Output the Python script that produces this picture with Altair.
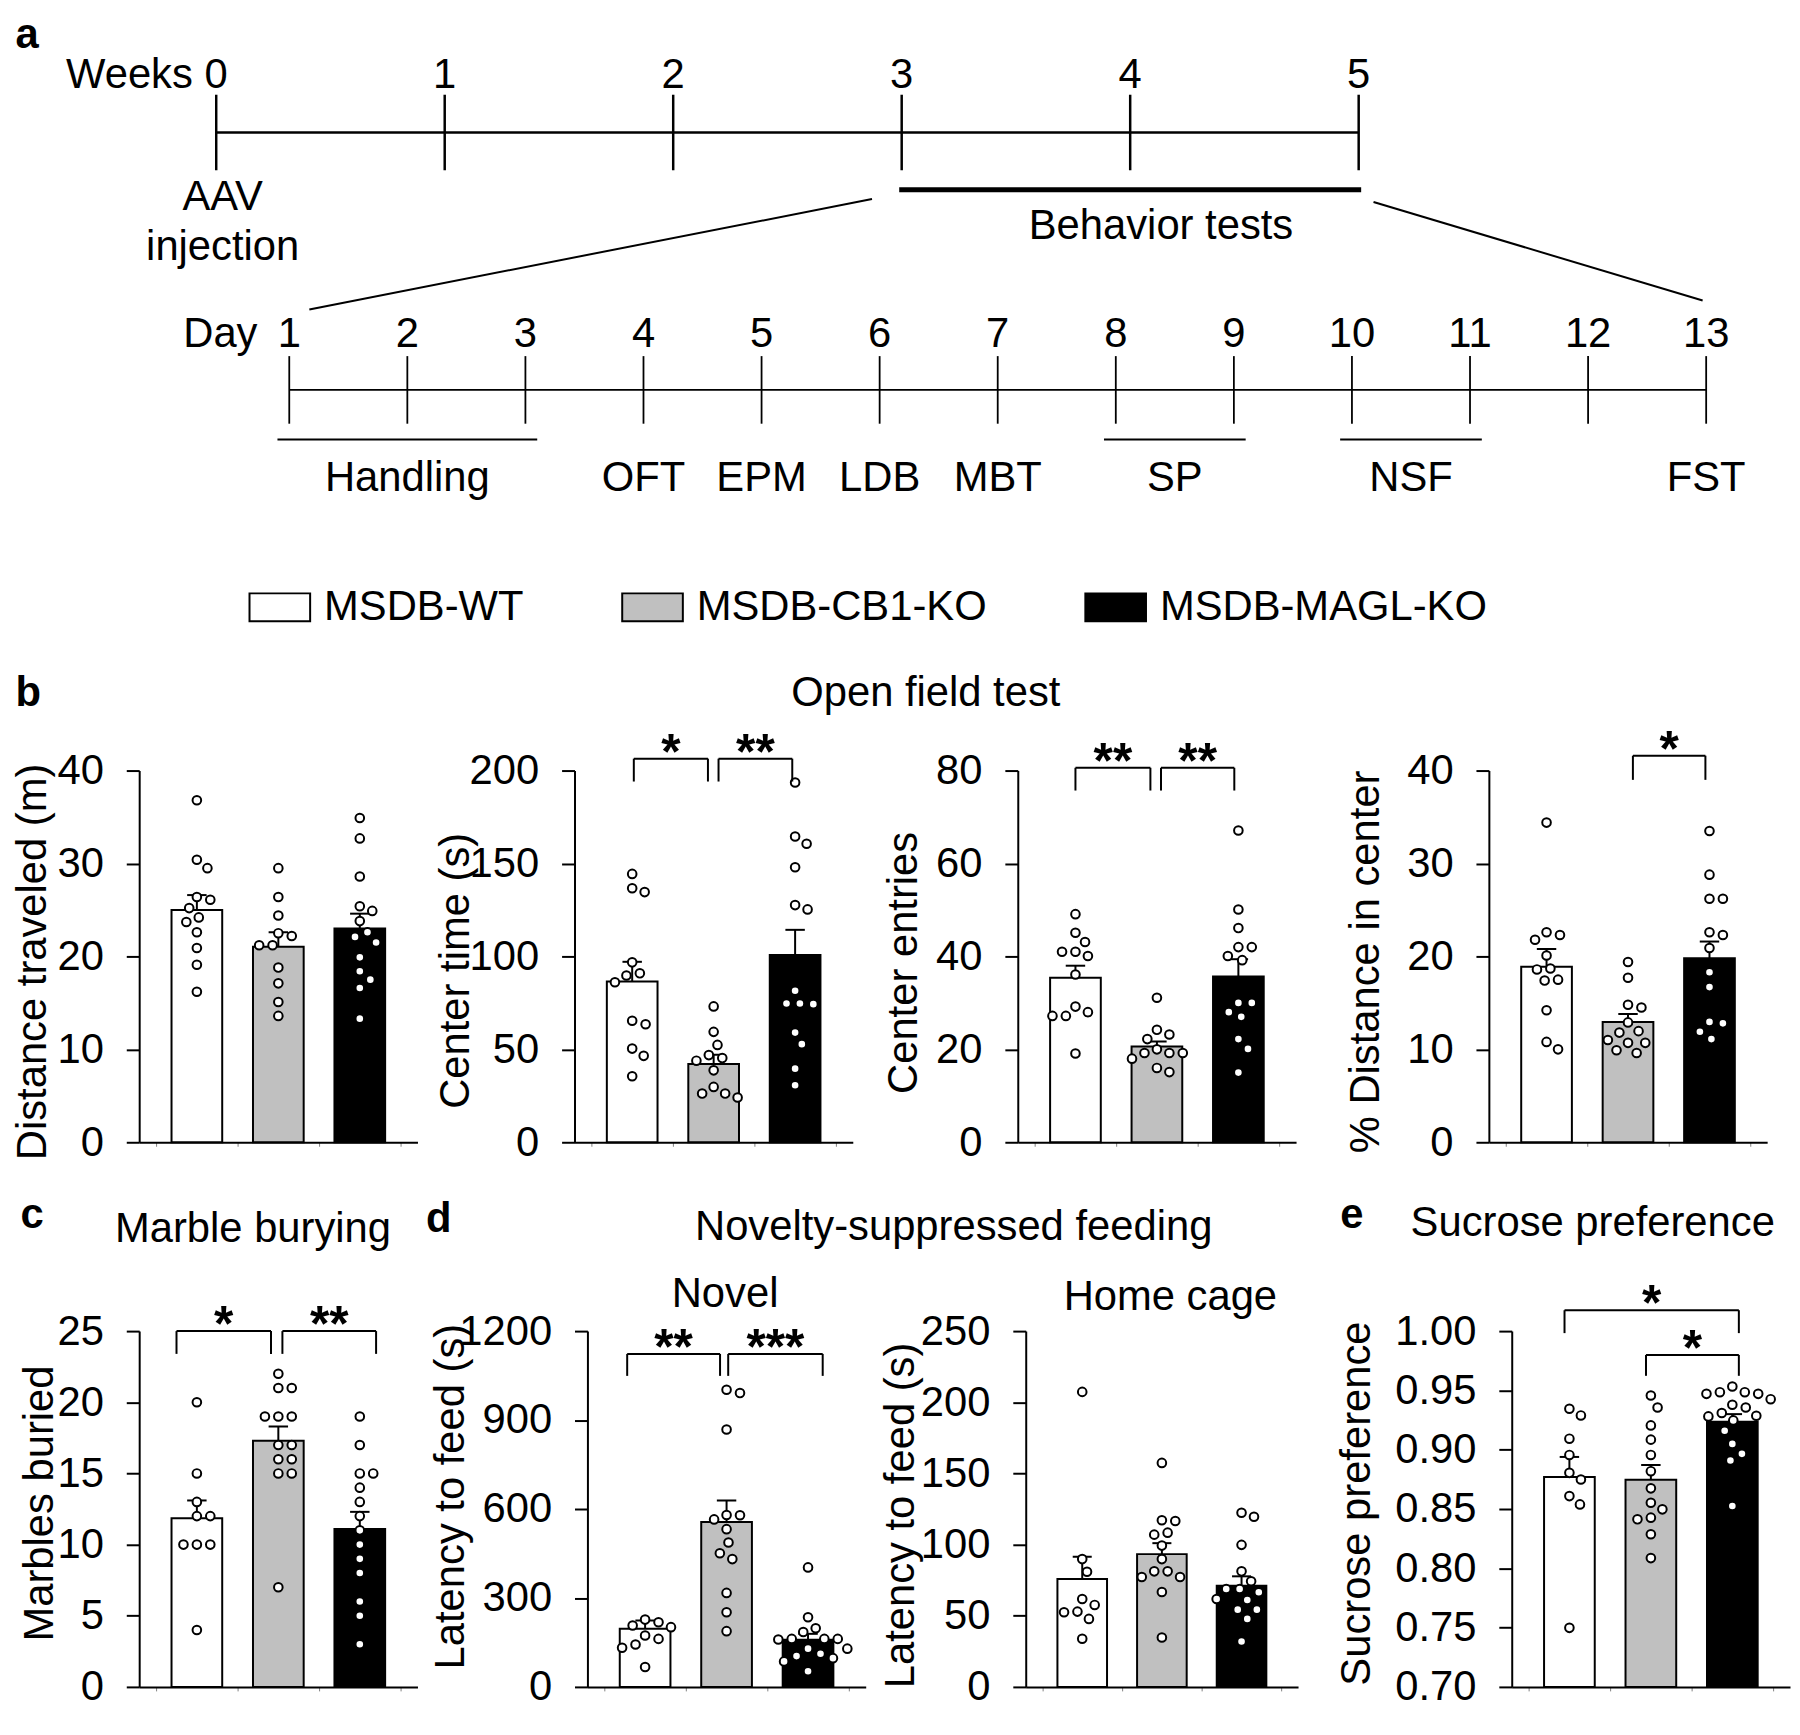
import altair as alt
import pandas as pd

FONT = "Liberation Sans"
GROUPS = ["MSDB-WT", "MSDB-CB1-KO", "MSDB-MAGL-KO"]
GROUP_FILLS = ["white", "#c0c0c0", "black"]

# ---------------- panel a: timeline ----------------
WEEKS = [0, 1, 2, 3, 4, 5]
BEHAVIOR_WEEKS = [3, 5]
DAYS = list(range(1, 14))
EVENT_NAMES = ["Handling", "OFT", "EPM", "LDB", "MBT", "SP", "NSF", "FST"]
EVENT_DAYS = [2, 4, 5, 6, 7, 8.5, 10.5, 13]
SPAN_START = [1, 8, 10]
SPAN_END = [3, 9, 11]

# ---------------- b: open field test ----------------
DIST_WT = [36.8, 30.4, 29.5, 26.4, 26.1, 25.2, 24.2, 23.7, 22.6, 20.9, 19.1, 16.2]
DIST_CB1 = [29.5, 26.4, 24.4, 22.5, 22.2, 21.2, 21.2, 18.8, 17.1, 15.1, 13.6]
DIST_MAGL = [34.9, 32.7, 28.6, 25.4, 24.9, 23.8, 22.6, 22.1, 21.5, 19.9, 18.4, 17.5, 16.6, 13.3]
DIST_MEAN = [25.0, 21.05, 23.0]
DIST_SEM = [1.6, 1.55, 1.6]

CTIME_WT = [144.4, 136.7, 134.6, 96.8, 90.9, 89.7, 86.1, 65.4, 63.5, 50.4, 46.5, 35.5]
CTIME_CB1 = [73.1, 59.4, 52.4, 46.9, 45.3, 43.9, 38.7, 29.8, 26.2, 26.2, 24.1]
CTIME_MAGL = [193.6, 164.5, 160.6, 148.0, 127.6, 125.3, 81.5, 74.7, 74.7, 74.3, 59.0, 52.8, 39.6, 30.7]
CTIME_MEAN = [86.5, 42.1, 100.7]
CTIME_SEM = [10.6, 5.0, 13.6]

CENT_WT = [49.1, 45.1, 43.1, 41.0, 41.0, 40.1, 36.1, 29.2, 28.0, 27.2, 27.2, 19.1]
CENT_CB1 = [31.1, 24.2, 23.2, 22.2, 20.0, 19.2, 19.2, 19.2, 18.0, 16.0, 15.1]
CENT_MAGL = [67.1, 50.1, 46.1, 42.0, 42.0, 40.1, 39.2, 30.0, 30.0, 28.0, 27.0, 22.2, 20.1, 15.0]
CENT_MEAN = [35.4, 20.6, 35.7]
CENT_SEM = [2.6, 1.1, 3.7]

PCT_WT = [34.4, 22.6, 22.3, 21.8, 20.1, 18.7, 18.6, 17.5, 17.4, 14.2, 10.8, 10.0]
PCT_CB1 = [19.4, 17.7, 14.8, 14.5, 12.9, 11.96, 11.8, 11.0, 10.7, 10.7, 9.9, 9.6]
PCT_MAGL = [33.5, 28.8, 26.2, 26.2, 22.6, 22.3, 20.9, 18.3, 16.7, 12.95, 12.8, 11.9, 11.1]
PCT_MEAN = [18.9, 12.95, 19.8]
PCT_SEM = [1.9, 0.85, 1.8]

# ---------------- c: marble burying ----------------
MARB_WT = [20, 15, 13, 12, 12, 10, 10, 10, 4]
MARB_CB1 = [22, 21, 21, 19, 19, 19, 17, 17, 16, 16, 15, 15, 7]
MARB_MAGL = [19, 17, 15, 15, 14, 13, 12, 11, 10, 9, 8, 6, 5, 3]
MARB_MEAN = [11.85, 17.3, 11.1]
MARB_SEM = [1.25, 1.0, 1.2]

# ---------------- d: novelty-suppressed feeding ----------------
NOV_WT = [227, 218, 207, 201.5, 173.5, 162, 143, 132, 67]
NOV_CB1 = [1002, 991, 868, 580, 579, 565, 532, 487, 451, 431, 317, 252, 188]
NOV_MAGL = [403, 235, 198, 185, 162, 162, 162, 160, 129, 129, 112, 104, 97, 86, 53]
NOV_MEAN = [196, 556, 159]
NOV_SEM = [28, 73, 20]

HOME_WT = [207.3, 89.8, 80.9, 61.8, 57.6, 52.9, 52.5, 47.8, 33.8]
HOME_CB1 = [157.4, 117.1, 116.6, 108.4, 107.0, 99.3, 89.8, 81.2, 81.2, 77.2, 77.2, 66.7, 34.7]
HOME_MAGL = [122.4, 119.6, 99.8, 81.2, 74.2, 68.8, 68.8, 66.5, 61.8, 61.1, 54.3, 54.3, 47.8, 31.9]
HOME_MEAN = [75.8, 93.3, 71.1]
HOME_SEM = [15.6, 7.7, 6.6]

# ---------------- e: sucrose preference ----------------
SUC_WT = [0.9345, 0.9289, 0.9093, 0.8956, 0.8805, 0.8749, 0.8609, 0.8539, 0.7498]
SUC_CB1 = [0.9457, 0.9356, 0.9205, 0.9085, 0.8956, 0.8819, 0.8674, 0.8553, 0.8497, 0.8427, 0.8413, 0.8287, 0.8086]
SUC_MAGL = [0.9533, 0.9485, 0.9485, 0.9471, 0.9471, 0.9426, 0.9379, 0.9356, 0.9309, 0.9286, 0.9281,
            0.9247, 0.9160, 0.9049, 0.8965, 0.8909, 0.8525]
SUC_MEAN = [0.8769, 0.8746, 0.9236]
SUC_SEM = [0.017, 0.0126, 0.0064]

# significance brackets: (x start, x end [group index units], top, drop-to, label)
BR_CTIME = [(0.02, 0.93, 206.4, 194.1, "*"), (1.06, 1.965, 206.4, 194.1, "**")]
BR_CENT = [(0.0, 0.92, 80.6, 75.7, "**"), (1.05, 1.95, 80.6, 75.7, "**")]
BR_PCT = [(1.06, 1.95, 41.6, 39.0, "*")]
BR_MARB = [(-0.25, 0.91, 25.0, 23.4, "*"), (1.05, 2.2, 25.0, 23.4, "**")]
BR_NOV = [(-0.22, 0.92, 1123, 1049, "**"), (1.02, 2.18, 1123, 1049, "***")]
BR_SUC = [(-0.06, 2.08, 1.0176, 0.9983, "*"), (0.94, 2.08, 0.9799, 0.9623, "*")]

# ---------------- layout / style ----------------
X_DOM = [-0.647, 2.647]
X_TICKS = [-0.5, 0.5, 1.5, 2.5]
TITLE_STYLE = dict(titleFont=FONT, titleFontSize=42, titleColor="black", titleLimit=3000,
                   titleAngle=0, titleBaseline="alphabetic")

LEGEND = alt.Legend(
    orient="none", legendX=110, legendY=566, direction="horizontal", title=None,
    symbolType="M-1,-0.46L1,-0.46L1,0.46L-1,0.46Z", symbolSize=3721,
    symbolStrokeColor="black", symbolStrokeWidth=2,
    labelFont=FONT, labelFontSize=42, labelColor="black", labelOffset=13,
    columnPadding=95, labelLimit=1000, padding=0,
)


def swarm_offsets(values, ydom, height, diam=13.5, maxoff=60):
    ppu = height / (ydom[1] - ydom[0])
    order = sorted(range(len(values)), key=lambda i: -values[i])
    cands = [0.0]
    for k in range(1, maxoff + 1):
        cands += [float(k), float(-k)]
    placed, offs = [], [0.0] * len(values)
    for i in order:
        y = (values[i] - ydom[0]) * ppu
        chosen = cands[-1]
        for c in cands:
            if all((c - px) ** 2 + (y - py) ** 2 >= diam * diam for px, py in placed):
                chosen = c
                break
        placed.append((chosen, y))
        offs[i] = chosen
    return offs


def make_panel(vals, means, sems, ydom, yticks, fmt, ytitle, lay, brackets, width, height):
    xs = alt.Scale(domain=X_DOM, nice=False, zero=False)
    ys = alt.Scale(domain=ydom, nice=False, zero=False)
    step = width / (X_DOM[1] - X_DOM[0])
    summ = pd.DataFrame({"group": GROUPS, "idx": [0, 1, 2], "mean": means,
                         "top": [m + s for m, s in zip(means, sems)], "base": [ydom[0]] * 3})
    rows = []
    for gi, (g, vs) in enumerate(zip(GROUPS, vals)):
        for v, o in zip(vs, swarm_offsets(vs, ydom, height)):
            rows.append({"group": g, "x": gi + o / step, "v": v})
    pts = pd.DataFrame(rows)

    xaxis_kw = dict(orient="bottom", values=X_TICKS, labels=False, tickSize=4, tickWidth=1,
                    tickColor="#808080", domainColor="black", domainWidth=2, grid=False)
    if "bottom" in lay:
        t, tx, ty = lay["bottom"]
        xaxis_kw.update(title=t, titleX=tx, titleY=ty - height, titleAlign="center",
                        titleFontWeight="normal", **TITLE_STYLE)
    else:
        xaxis_kw.update(title="")
    yaxis = alt.Axis(orient="left", values=yticks, format=fmt, title=ytitle,
                     titleX=lay["yt"][0], titleY=lay["yt"][1], titleAngle=-90, titleAlign="center",
                     titleBaseline="middle", titleFont=FONT, titleFontSize=42, titleFontWeight="normal",
                     titleColor="black", titleLimit=3000, labelFont=FONT, labelFontSize=42,
                     labelColor="black", labelPadding=23, labelFlush=False, labelOverlap=False,
                     tickSize=13, tickWidth=2, tickColor="black", domainColor="black",
                     domainWidth=2, grid=False)

    def XQ(f):
        return alt.X(f, type="quantitative", scale=xs, axis=None)

    def YQ(f):
        return alt.Y(f, type="quantitative", scale=ys, axis=None)

    layers = []
    layers.append(alt.Chart(summ).mark_bar(size=0.6 * step, stroke="black", strokeWidth=2).encode(
        x=alt.X("idx:Q", scale=xs, axis=alt.Axis(**xaxis_kw)),
        y=alt.Y("mean:Q", scale=ys, axis=yaxis),
        y2="base:Q",
        fill=alt.Fill("group:N", scale=alt.Scale(domain=GROUPS, range=GROUP_FILLS), legend=LEGEND),
    ))
    layers.append(alt.Chart(summ).mark_rule(color="black", strokeWidth=2).encode(
        x=XQ("idx"), y=YQ("mean"), y2="top:Q"))
    layers.append(alt.Chart(summ).mark_tick(orient="horizontal", size=0.23 * step, thickness=2,
                                            color="black", opacity=1).encode(x=XQ("idx"), y=YQ("top")))
    layers.append(alt.Chart(pts).mark_circle(size=75, fill="white", stroke="black", strokeWidth=2,
                                             opacity=1).encode(x=XQ("x"), y=YQ("v")))
    if brackets:
        seg, lab = [], []
        for xa, xb, yt, yb, t in brackets:
            seg += [dict(x=xa, x2=xb, y=yt, y2=yt), dict(x=xa, x2=xa, y=yt, y2=yb),
                    dict(x=xb, x2=xb, y=yt, y2=yb)]
            lab.append(dict(x=(xa + xb) / 2, y=yt, t=t))
        layers.append(alt.Chart(pd.DataFrame(seg)).mark_rule(color="black", strokeWidth=2).encode(
            x=XQ("x"), x2="x2:Q", y=YQ("y"), y2="y2:Q"))
        layers.append(alt.Chart(pd.DataFrame(lab)).mark_text(
            font=FONT, fontSize=50, fontWeight="bold", baseline="alphabetic", dy=10, color="black"
        ).encode(x=XQ("x"), y=YQ("y"), text="t:N"))
    if "top" in lay:
        t, tx, ty = lay["top"]
        layers.append(alt.Chart(summ).mark_point(opacity=0).encode(
            x=alt.X("idx:Q", scale=xs, axis=alt.Axis(
                orient="top", domain=False, ticks=False, labels=False, grid=False, title=t,
                titleX=tx, titleY=ty, titleAlign="center", titleFontWeight="normal", **TITLE_STYLE)),
            y=YQ("mean")))
    if "right" in lay:
        t, tx, ty = lay["right"]
        layers.append(alt.Chart(summ).mark_point(opacity=0).encode(
            x=XQ("idx"),
            y=alt.Y("mean:Q", scale=ys, axis=alt.Axis(
                orient="right", domain=False, ticks=False, labels=False, grid=False, title=t,
                titleX=tx - width, titleY=ty, titleAlign="left", titleFontWeight="bold",
                **TITLE_STYLE))))
    return alt.layer(*layers).resolve_axis(x="independent", y="independent").properties(
        width=width, height=height)


# ---------------- panel a chart ----------------
WA, HA = 1656, 490
W_DOM = [-0.3371, 6.866]
D_DOM = [-0.2710, 13.668]
xw = alt.Scale(domain=W_DOM, nice=False, zero=False)
xd = alt.Scale(domain=D_DOM, nice=False, zero=False)
ya = alt.Scale(domain=[0, HA], reverse=True, nice=False, zero=False)

# vertical levels of the schematic (pixels from the top of panel a)
LV_WEEK_LAB, LV_WEEK_LINE, LV_WEEK_TICK = 75, 120, (82, 158)
LV_BEH, LV_BEH_LAB, LV_AAV = 177.5, 227, 198
LV_CONN_L, LV_CONN_R = (187, 298), (190, 289)
LV_DAY_LAB, LV_DAY_LINE, LV_DAY_TICK = 336, 379, (345, 413)
LV_SPAN, LV_EVENT = 429, 481


def day_to_week(d):
    return W_DOM[0] + (d - D_DOM[0]) * (W_DOM[1] - W_DOM[0]) / (D_DOM[1] - D_DOM[0])


def XW(f):
    return alt.X(f, type="quantitative", scale=xw, axis=None)


def XD(f):
    return alt.X(f, type="quantitative", scale=xd, axis=None)


def YA(f):
    return alt.Y(f, type="quantitative", scale=ya, axis=None)


TXT = dict(font=FONT, fontSize=42, color="black", baseline="alphabetic")

wk = pd.DataFrame({"w": WEEKS, "t0": LV_WEEK_TICK[0], "t1": LV_WEEK_TICK[1], "yl": LV_WEEK_LAB,
                   "lab": [str(w) for w in WEEKS]})
dy_ = pd.DataFrame({"d": DAYS, "t0": LV_DAY_TICK[0], "t1": LV_DAY_TICK[1], "yl": LV_DAY_LAB,
                    "lab": [str(d) for d in DAYS]})
a_layers = [
    alt.Chart(wk).mark_rule(color="black", strokeWidth=2.5).encode(x=XW("w"), y=YA("t0"), y2="t1:Q"),
    alt.Chart(pd.DataFrame({"a": [WEEKS[0]], "b": [WEEKS[-1]], "y": [LV_WEEK_LINE]})).mark_rule(
        color="black", strokeWidth=2.5).encode(x=XW("a"), x2="b:Q", y=YA("y")),
    alt.Chart(wk).mark_text(**TXT).encode(x=XW("w"), y=YA("yl"), text="lab:N"),
    alt.Chart(pd.DataFrame({"w": [WEEKS[0]], "y": [LV_WEEK_LAB], "t": ["Weeks"]})).mark_text(
        align="right", dx=-23.5, **TXT).encode(x=XW("w"), y=YA("y"), text="t:N"),
    alt.Chart(pd.DataFrame({"a": [BEHAVIOR_WEEKS[0]], "b": [BEHAVIOR_WEEKS[1]], "y": [LV_BEH]})).mark_rule(
        color="black", strokeWidth=5, strokeCap="square").encode(x=XW("a"), x2="b:Q", y=YA("y")),
    alt.Chart(pd.DataFrame({"w": [sum(BEHAVIOR_WEEKS) / 2], "y": [LV_BEH_LAB], "t": ["Behavior tests"]})).mark_text(
        dx=31, **TXT).encode(x=XW("w"), y=YA("y"), text="t:N"),
    alt.Chart(pd.DataFrame({"w": [WEEKS[0]], "y": [LV_AAV], "t": ["AAV\ninjection"]})).mark_text(
        dx=6.5, lineBreak="\n", lineHeight=50, **TXT).encode(x=XW("w"), y=YA("y"), text="t:N"),
    alt.Chart(pd.DataFrame({
        "x": [BEHAVIOR_WEEKS[0] - 0.13, BEHAVIOR_WEEKS[1] + 0.065],
        "x2": [day_to_week(DAYS[0] + 0.17), day_to_week(DAYS[-1] - 0.03)],
        "y": [LV_CONN_L[0], LV_CONN_R[0]], "y2": [LV_CONN_L[1], LV_CONN_R[1]]})).mark_rule(
        color="black", strokeWidth=2).encode(x=XW("x"), x2="x2:Q", y=YA("y"), y2="y2:Q"),
    alt.Chart(dy_).mark_rule(color="black", strokeWidth=1.8).encode(x=XD("d"), y=YA("t0"), y2="t1:Q"),
    alt.Chart(pd.DataFrame({"a": [DAYS[0]], "b": [DAYS[-1]], "y": [LV_DAY_LINE]})).mark_rule(
        color="black", strokeWidth=1.8).encode(x=XD("a"), x2="b:Q", y=YA("y")),
    alt.Chart(dy_).mark_text(**TXT).encode(x=XD("d"), y=YA("yl"), text="lab:N"),
    alt.Chart(pd.DataFrame({"d": [DAYS[0]], "y": [LV_DAY_LAB], "t": ["Day"]})).mark_text(
        align="right", dx=-32, **TXT).encode(x=XD("d"), y=YA("y"), text="t:N"),
    alt.Chart(pd.DataFrame({"a": [s - 0.1 for s in SPAN_START], "b": [e + 0.1 for e in SPAN_END],
                            "y": [LV_SPAN] * 3})).mark_rule(color="black", strokeWidth=2).encode(
        x=XD("a"), x2="b:Q", y=YA("y")),
    alt.Chart(pd.DataFrame({"d": EVENT_DAYS, "t": EVENT_NAMES, "y": LV_EVENT})).mark_text(**TXT).encode(
        x=XD("d"), y=YA("y"), text="t:N"),
    alt.Chart(pd.DataFrame({"y": [0]})).mark_point(opacity=0).encode(
        y=alt.Y("y:Q", scale=ya, axis=alt.Axis(
            orient="left", domain=False, ticks=False, labels=False, grid=False, title="a",
            titleX=-125, titleY=34, titleAlign="left", titleFontWeight="bold", **TITLE_STYLE))),
]
panel_a = alt.layer(*a_layers).resolve_scale(x="independent").resolve_axis(y="independent").properties(
    width=WA, height=HA)

# ---------------- panels b-e ----------------
HB, HC = 374, 358
b1 = make_panel([DIST_WT, DIST_CB1, DIST_MAGL], DIST_MEAN, DIST_SEM, [0, 40], [0, 10, 20, 30, 40], "d",
                "Distance traveled (m)",
                {"yt": (-107, 192), "top": ("Open field test", 791, -65), "right": ("b", -125, -65)},
                [], 280, HB)
b2 = make_panel([CTIME_WT, CTIME_CB1, CTIME_MAGL], CTIME_MEAN, CTIME_SEM, [0, 200], [0, 50, 100, 150, 200],
                "d", "Center time (s)", {"yt": (-120, 201)}, BR_CTIME, 280, HB)
b3 = make_panel([CENT_WT, CENT_CB1, CENT_MAGL], CENT_MEAN, CENT_SEM, [0, 80], [0, 20, 40, 60, 80], "d",
                "Center entries", {"yt": (-115, 193)}, BR_CENT, 280, HB)
b4 = make_panel([PCT_WT, PCT_CB1, PCT_MAGL], PCT_MEAN, PCT_SEM, [0, 40], [0, 10, 20, 30, 40], "d",
                "% Distance in center", {"yt": (-124, 192)}, BR_PCT, 280, HB)
c1 = make_panel([MARB_WT, MARB_CB1, MARB_MAGL], MARB_MEAN, MARB_SEM, [0, 25], [0, 5, 10, 15, 20, 25], "d",
                "Marbles buried",
                {"yt": (-100, 173), "top": ("Marble burying", 114, -90), "right": ("c", -120, -104)},
                BR_MARB, 280, HC)
d1 = make_panel([NOV_WT, NOV_CB1, NOV_MAGL], NOV_MEAN, NOV_SEM, [0, 1200], [0, 300, 600, 900, 1200], "d",
                "Latency to feed (s)",
                {"yt": (-138, 166), "top": ("Novelty-suppressed feeding", 368, -92),
                 "bottom": ("Novel", 138, -25), "right": ("d", -163, -100)},
                BR_NOV, 280, HC)
d2 = make_panel([HOME_WT, HOME_CB1, HOME_MAGL], HOME_MEAN, HOME_SEM, [0, 250], [0, 50, 100, 150, 200, 250],
                "d", "Latency to feed (s)", {"yt": (-126, 185), "top": ("Home cage", 145, -22)},
                [], 274, HC)
e1 = make_panel([SUC_WT, SUC_CB1, SUC_MAGL], SUC_MEAN, SUC_SEM, [0.70, 1.00],
                [round(0.70 + 0.05 * i, 2) for i in range(7)], ".2f", "Sucrose preference",
                {"yt": (-156, 173), "top": ("Sucrose preference", 81, -96), "right": ("e", -173, -104)},
                BR_SUC, 280, HC)


def spacer(w):
    return alt.Chart(pd.DataFrame({"v": [0]})).mark_point(opacity=0).encode(
        x=alt.X("v:Q", axis=None), y=alt.Y("v:Q", axis=None)).properties(width=w, height=1)


row_b = alt.hconcat(b1, spacer(158), b2, spacer(166), b3, spacer(194), b4, spacing=0, bounds="flush")
row_c = alt.hconcat(c1, spacer(171), d1, spacer(161), d2, spacer(215), e1, spacing=0, bounds="flush")

chart = alt.vconcat(alt.vconcat(panel_a, row_b, spacing=173), row_c, spacing=31).properties(
    padding={"left": 3, "top": -3, "right": 2, "bottom": 2}
).configure(font=FONT).configure_view(stroke=None)

chart.save("out.html", embed_options={"renderer": "svg", "actions": False})
